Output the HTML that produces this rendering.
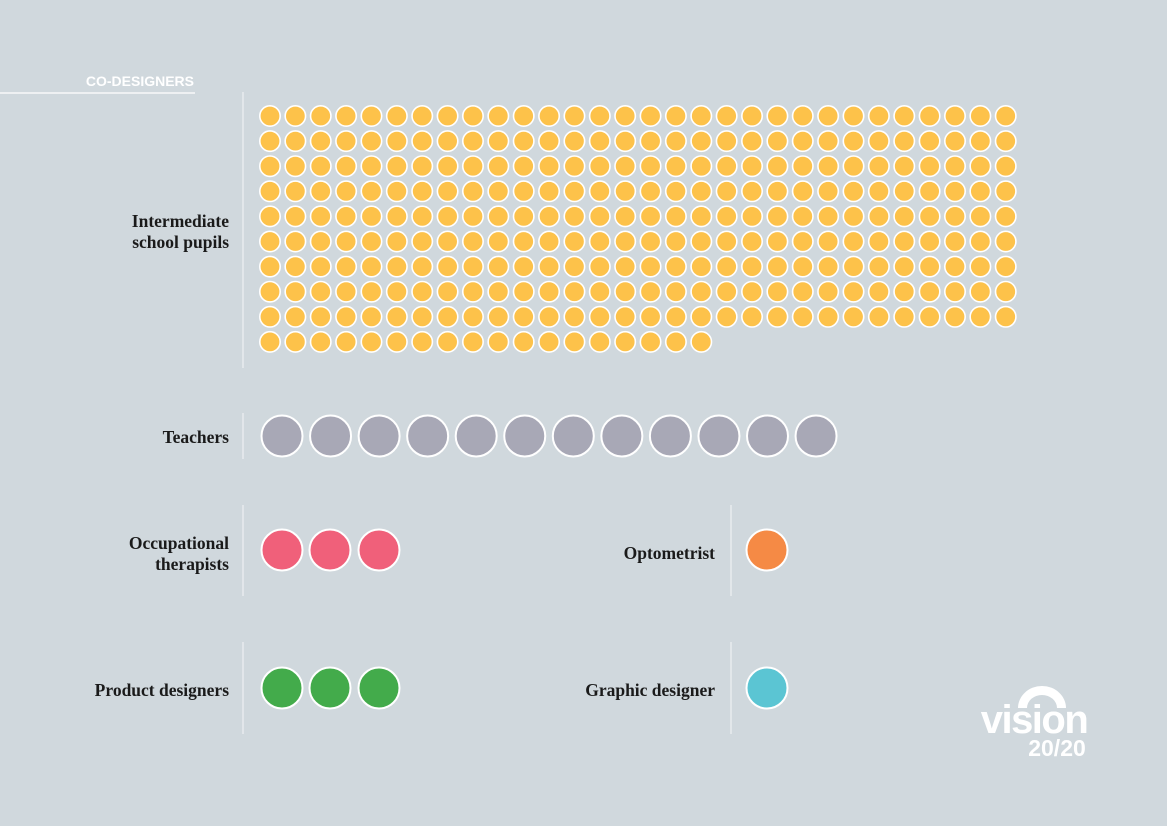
<!DOCTYPE html>
<html><head><meta charset="utf-8"><style>
html,body{margin:0;padding:0;background:#d0d8dd;}
svg{display:block}
.l{font-family:"Liberation Serif",serif;font-weight:bold;font-size:17.5px;fill:#1a1a1a;text-anchor:end}
</style></head><body>
<svg width="1167" height="826" xmlns="http://www.w3.org/2000/svg">
<rect width="1167" height="826" fill="#d0d8dd"/>
<text x="194" y="86" font-family="Liberation Sans,sans-serif" font-weight="bold" font-size="14" fill="#fff" text-anchor="end">CO-DESIGNERS</text>
<line x1="0" y1="93" x2="195" y2="93" stroke="#fff" stroke-width="1.2"/>
<g stroke="#eef1f3" stroke-width="1.2">
<line x1="243" y1="92" x2="243" y2="368"/>
<line x1="243" y1="413" x2="243" y2="459"/>
<line x1="243" y1="505" x2="243" y2="596"/>
<line x1="243" y1="642" x2="243" y2="734"/>
<line x1="731" y1="505" x2="731" y2="596"/>
<line x1="731" y1="642" x2="731" y2="734"/>
</g>
<text class="l" x="229" y="227">Intermediate</text>
<text class="l" x="229" y="248">school pupils</text>
<text class="l" x="229" y="443">Teachers</text>
<text class="l" x="229" y="549">Occupational</text>
<text class="l" x="229" y="570">therapists</text>
<text class="l" x="229" y="696">Product designers</text>
<text class="l" x="715" y="559">Optometrist</text>
<text class="l" x="715" y="696">Graphic designer</text>
<g id="y" fill="#fdc24a" stroke="#fff" stroke-width="1.6"></g>
<g stroke="#fff" stroke-width="2">
<g fill="#a8a8b6" id="t"></g>
<circle cx="282" cy="550" r="20.5" fill="#f0607a"/><circle cx="330" cy="550" r="20.5" fill="#f0607a"/><circle cx="379" cy="550" r="20.5" fill="#f0607a"/>
<circle cx="282" cy="688" r="20.5" fill="#43ab4b"/><circle cx="330" cy="688" r="20.5" fill="#43ab4b"/><circle cx="379" cy="688" r="20.5" fill="#43ab4b"/>
<circle cx="767" cy="550" r="20.5" fill="#f58a45"/>
<circle cx="767" cy="688" r="20.5" fill="#5bc5d3"/>
</g>
<g fill="#fff">
<path d="M1018 708 A 24 22 0 0 1 1066 708 L1057 708 A 15 13 0 0 0 1027 708 Z"/>
<text x="1034" y="733" font-family="Liberation Sans,sans-serif" font-weight="bold" font-size="40" text-anchor="middle" letter-spacing="-1.5">vision</text>
<text x="1057" y="756" font-family="Liberation Sans,sans-serif" font-weight="bold" font-size="23" text-anchor="middle">20/20</text>
</g>
</svg>
<script>
var ns="http://www.w3.org/2000/svg",g=document.getElementById("y");
for(var i=0;i<288;i++){var c=document.createElementNS(ns,"circle");c.setAttribute("cx",270+(i%30)*25.37);c.setAttribute("cy",116+Math.floor(i/30)*25.1);c.setAttribute("r",10.2);g.appendChild(c);}
var t=document.getElementById("t");
for(var j=0;j<12;j++){var c=document.createElementNS(ns,"circle");c.setAttribute("cx",282+j*48.55);c.setAttribute("cy",436);c.setAttribute("r",20.5);t.appendChild(c);}
</script>
</body></html>
